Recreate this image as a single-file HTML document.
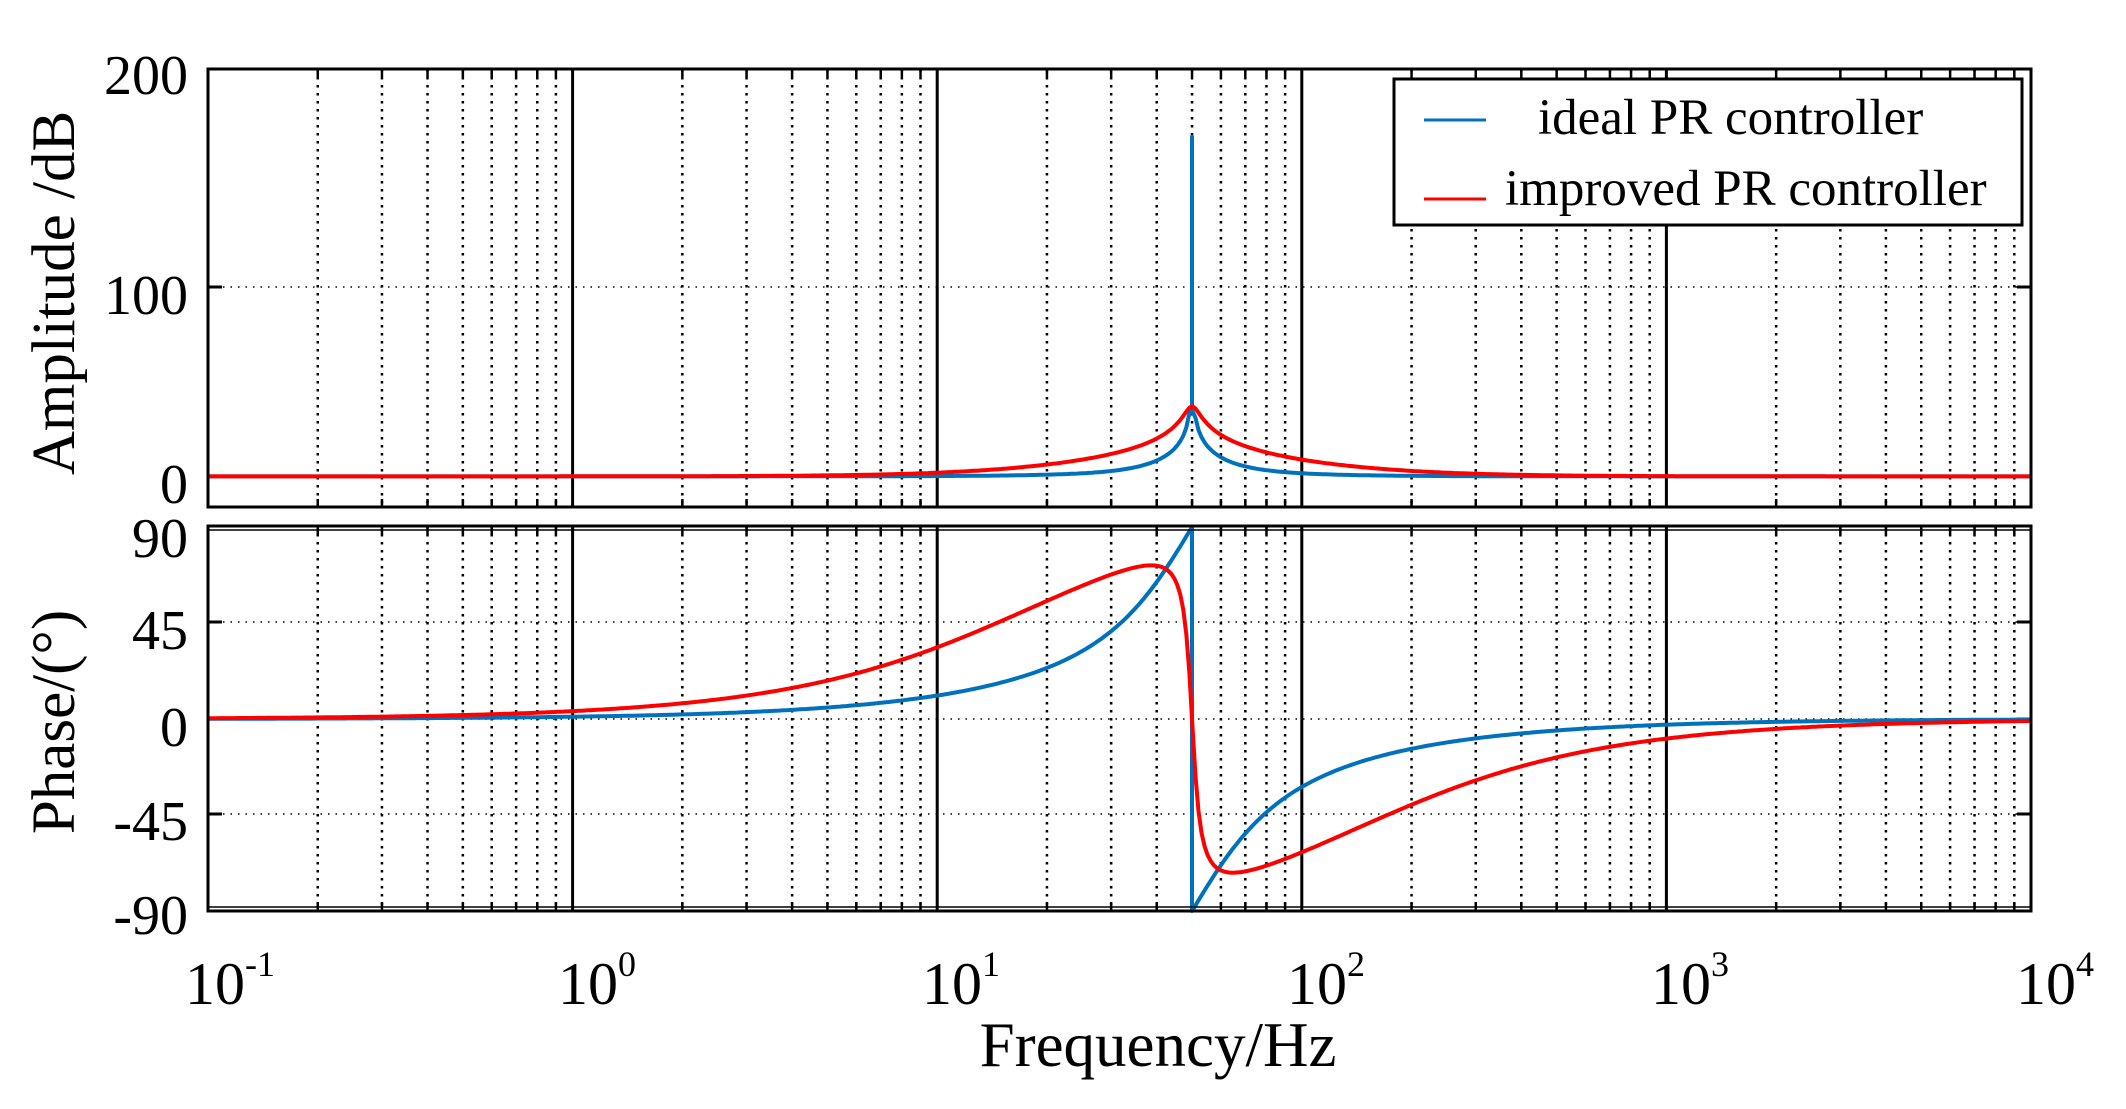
<!DOCTYPE html>
<html><head><meta charset="utf-8">
<style>
html,body{margin:0;padding:0;background:#fff;}
svg{display:block;}
text{font-family:"Liberation Serif",serif;fill:#000;}
</style></head>
<body>
<svg id="s" width="2126" height="1109" viewBox="0 0 2126 1109" xmlns="http://www.w3.org/2000/svg">
<rect width="2126" height="1109" fill="#fff"/>
<g id="grid"></g>
<path id="bm" fill="none" stroke="#0072BD" stroke-width="4" stroke-linejoin="round"/>
<path id="rm" fill="none" stroke="#FF0000" stroke-width="4" stroke-linejoin="round"/>
<path id="bp" fill="none" stroke="#0072BD" stroke-width="4" stroke-linejoin="round"/>
<path id="rp" fill="none" stroke="#FF0000" stroke-width="4" stroke-linejoin="round"/>
<g id="frame"></g>
<!-- legend -->
<rect x="1394" y="79" width="628" height="146" fill="#fff" stroke="#000" stroke-width="3"/>
<line x1="1424" y1="120" x2="1486" y2="120" stroke="#0072BD" stroke-width="3"/>
<line x1="1424" y1="199" x2="1486" y2="199" stroke="#FF0000" stroke-width="3"/>
<text x="1538" y="134" font-size="51">ideal PR controller</text>
<text x="1505" y="205" font-size="51">improved PR controller</text>
<!-- y tick labels -->
<g font-size="56" text-anchor="end">
<text x="188" y="94">200</text>
<text x="188" y="314">100</text>
<text x="188" y="503">0</text>
<text x="188" y="557">90</text>
<text x="188" y="649">45</text>
<text x="188" y="746">0</text>
<text x="188" y="840">-45</text>
<text x="188" y="934">-90</text>
</g>
<!-- x tick labels -->
<g font-size="60">
<text x="185" y="1004">10<tspan font-size="36" dy="-28">-1</tspan></text>
<text x="558" y="1004">10<tspan font-size="36" dy="-28">0</tspan></text>
<text x="922" y="1004">10<tspan font-size="36" dy="-28">1</tspan></text>
<text x="1287" y="1004">10<tspan font-size="36" dy="-28">2</tspan></text>
<text x="1651" y="1004">10<tspan font-size="36" dy="-28">3</tspan></text>
<text x="2016" y="1004">10<tspan font-size="36" dy="-28">4</tspan></text>
</g>
<text x="1158" y="1066" font-size="63" text-anchor="middle">Frequency/Hz</text>
<text transform="translate(74,293) rotate(-90)" font-size="61" text-anchor="middle">Amplitude /dB</text>
<text transform="translate(74,722) rotate(-90)" font-size="61" text-anchor="middle">Phase/(°)</text>
</svg>
<script>
(function(){
var L=208,R=2031,D=(R-L)/5;
var T1=69,B1=507,T2=526,B2=911;
function X(f){return L+(Math.log10(f)+1)*D;}
function yA(db){return B1-db*2.19;}
function yP(p){return 719-p*(96/45);}
var g='';
for(var d=-1;d<4;d++){
 for(var k=1;k<10;k++){
  var x=X(k*Math.pow(10,d));
  if(k==1){
   if(d>-1){g+='<line x1="'+x+'" y1="'+T1+'" x2="'+x+'" y2="'+B1+'" stroke="#000" stroke-width="3"/>';
   g+='<line x1="'+x+'" y1="'+T2+'" x2="'+x+'" y2="'+B2+'" stroke="#000" stroke-width="3"/>';}
  } else {
   g+='<line x1="'+x+'" y1="'+T1+'" x2="'+x+'" y2="'+B1+'" stroke="#000" stroke-width="2.5" stroke-dasharray="2.5,5.5"/>';
   g+='<line x1="'+x+'" y1="'+T2+'" x2="'+x+'" y2="'+B2+'" stroke="#000" stroke-width="2.5" stroke-dasharray="2.5,5.5"/>';
   g+='<line x1="'+x+'" y1="'+T1+'" x2="'+x+'" y2="'+(T1+8)+'" stroke="#000" stroke-width="2.5"/>';
   g+='<line x1="'+x+'" y1="'+B1+'" x2="'+x+'" y2="'+(B1-8)+'" stroke="#000" stroke-width="2.5"/>';
   g+='<line x1="'+x+'" y1="'+T2+'" x2="'+x+'" y2="'+(T2+8)+'" stroke="#000" stroke-width="2.5"/>';
   g+='<line x1="'+x+'" y1="'+B2+'" x2="'+x+'" y2="'+(B2-8)+'" stroke="#000" stroke-width="2.5"/>';
  }
 }
}
[287,622,719,814].forEach(function(y){
 g+='<line x1="'+L+'" y1="'+y+'" x2="'+R+'" y2="'+y+'" stroke="#000" stroke-width="1.5" stroke-dasharray="1.5,6"/>';
 g+='<line x1="'+L+'" y1="'+y+'" x2="'+(L+14)+'" y2="'+y+'" stroke="#000" stroke-width="3"/>';
 g+='<line x1="'+(R-14)+'" y1="'+y+'" x2="'+R+'" y2="'+y+'" stroke="#000" stroke-width="3"/>';
});
document.getElementById('grid').innerHTML=g;
var fr='<rect x="'+L+'" y="'+T1+'" width="'+(R-L)+'" height="'+(B1-T1)+'" fill="none" stroke="#000" stroke-width="3"/>';
fr+='<rect x="'+L+'" y="'+T2+'" width="'+(R-L)+'" height="'+(B2-T2)+'" fill="none" stroke="#000" stroke-width="3"/>';
fr+='<line x1="'+L+'" y1="'+(T2+4)+'" x2="'+R+'" y2="'+(T2+4)+'" stroke="#000" stroke-width="1.5"/>';
fr+='<line x1="'+L+'" y1="'+(B2-4)+'" x2="'+R+'" y2="'+(B2-4)+'" stroke="#000" stroke-width="1.5"/>';
document.getElementById('frame').innerHTML=fr;

var Kp=5,Kri=1465,Krr=195,wc=13,w0=2*Math.PI*50;
function ideal(f){var w=2*Math.PI*f;var im=Kri*w/(w0*w0-w*w);return [Kp,im];}
function impr(f){var w=2*Math.PI*f;var Dd=w0*w0-w*w,B=2*wc*w;var u=Dd/B;var s=Krr/(1+u*u);return [Kp+s,s*u];}
var fs=[];
for(var i=0;i<=600;i++){fs.push(Math.pow(10,-1+5*i/600));}
var bmP=[],rmP=[],bpP=[],rpP=[],spiked=false;
fs.forEach(function(f){
 var a=ideal(f),b=impr(f);
 var ma=20*Math.log10(Math.hypot(a[0],a[1])),mb=20*Math.log10(Math.hypot(b[0],b[1]));
 if(ma>44)ma=44;
 var pa=Math.atan2(a[1],a[0])*180/Math.PI,pb=Math.atan2(b[1],b[0])*180/Math.PI;
 var x=X(f);
 if(f>50 && !spiked){spiked=true;
   bmP.push([X(50),yA(44)]);bmP.push([X(50),yA(169)]);bmP.push([X(50),yA(44)]);
   bpP.push([X(50),yP(90)]);bpP.push([X(50),yP(-90)]);}
 bmP.push([x,yA(ma)]);bpP.push([x,yP(pa)]);
 rmP.push([x,yA(mb)]);rpP.push([x,yP(pb)]);
});
function P(a){return 'M'+a.map(function(p){return p[0].toFixed(1)+','+p[1].toFixed(1);}).join('L');}
document.getElementById('bm').setAttribute('d',P(bmP));
document.getElementById('rm').setAttribute('d',P(rmP));
document.getElementById('bp').setAttribute('d',P(bpP));
document.getElementById('rp').setAttribute('d',P(rpP));
})();
</script>
</body></html>
